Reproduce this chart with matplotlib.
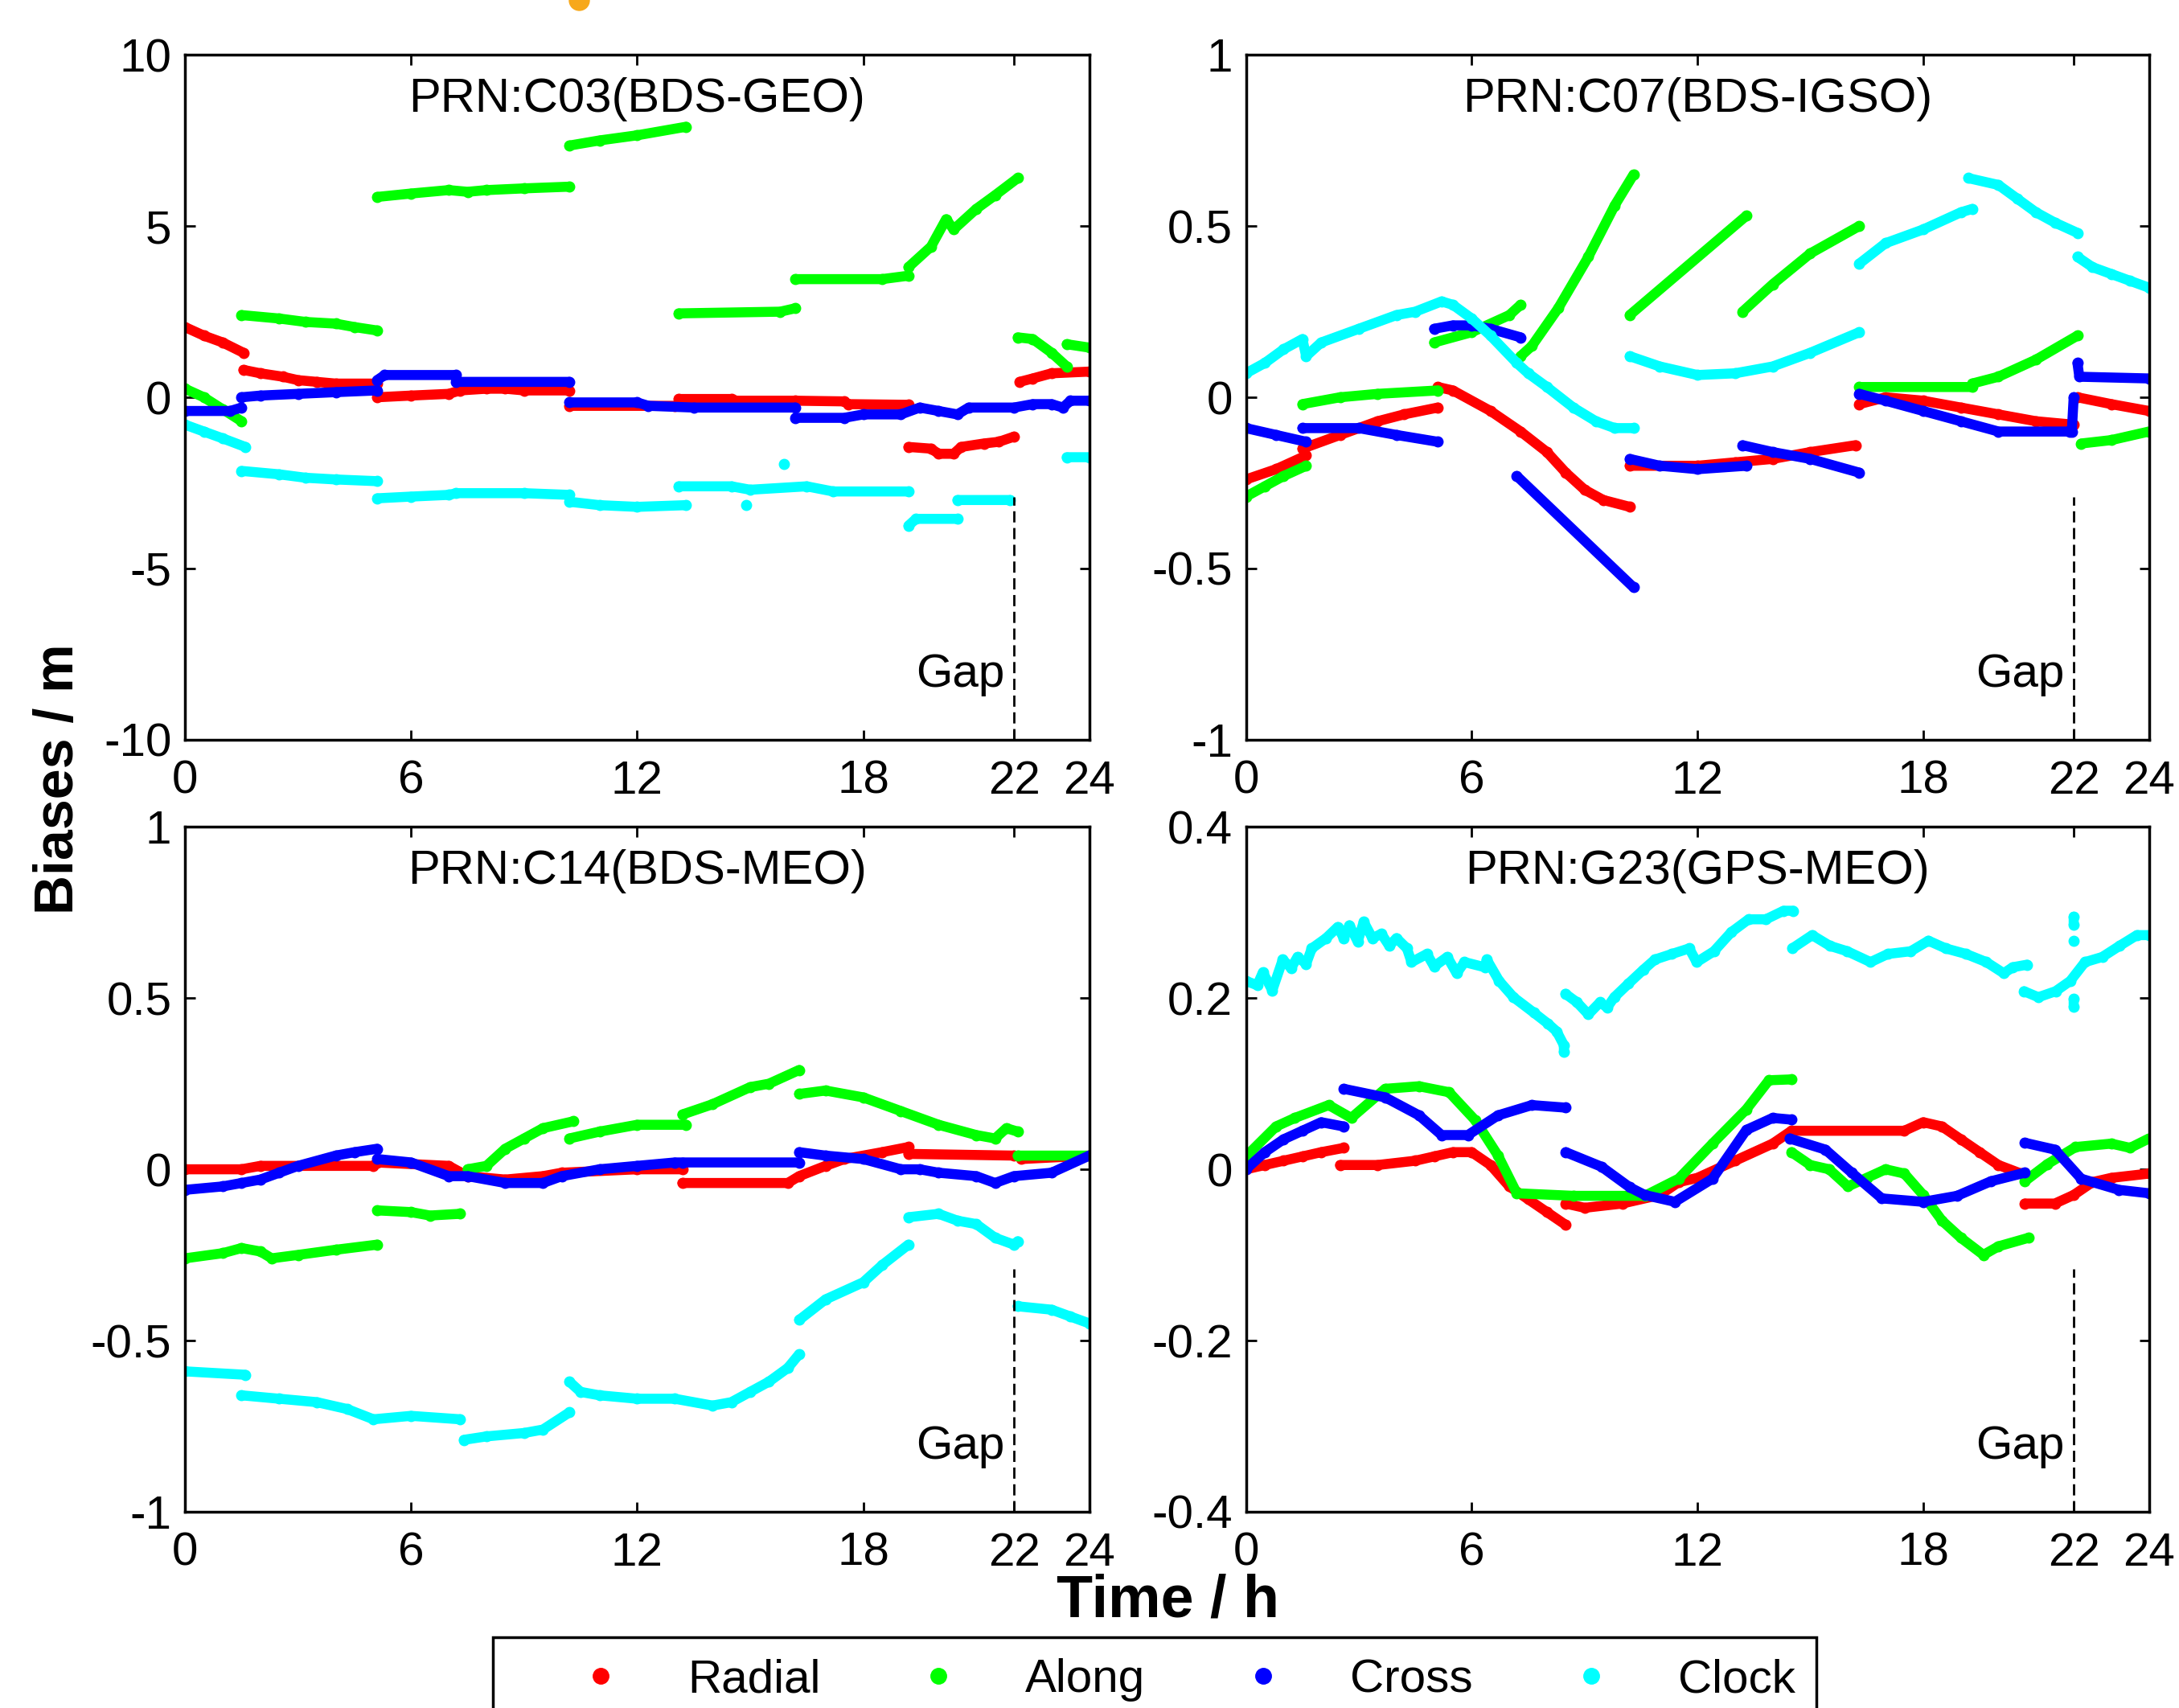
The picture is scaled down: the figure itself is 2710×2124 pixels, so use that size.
import numpy as np
import matplotlib
matplotlib.use("Agg")
import matplotlib.pyplot as plt
from matplotlib.lines import Line2D
import matplotlib.transforms as mtransforms

plt.rcParams["font.family"] = ["Liberation Sans", "DejaVu Sans"]
plt.rcParams["axes.unicode_minus"] = False

N = None  # segment break

# ---------------- PRN C03 (BDS-GEO) ----------------
C03_T_RADIAL = [0, 0.5, 1.0, 1.55, N, 1.55, 2, 2.6, 3, 3.5, 4, 5.1, N, 5.1, 6, 7, 7.3, 8, 8.5, 9, 10.2, N,
                10.2, 13.0, N, 13.1, 14.5, 14.6, 16.2, 17.5, 17.6, 19.2, N,
                19.2, 19.8, 20.0, 20.4, 20.6, 21.2, 21.6, 22.0, N, 22.15, 22.5, 23, 24]
C03_RADIAL = [2.05, 1.8, 1.6, 1.3, N, 0.8, 0.7, 0.6, 0.5, 0.45, 0.4, 0.4, N, 0.0, 0.05, 0.1, 0.2, 0.25, 0.25, 0.2, 0.2, N,
              -0.25, -0.25, N, -0.05, -0.05, -0.1, -0.1, -0.12, -0.2, -0.22, N,
              -1.45, -1.5, -1.65, -1.65, -1.45, -1.35, -1.3, -1.15, N, 0.45, 0.55, 0.7, 0.75]
C03_T_ALONG = [0, 0.5, 1.0, 1.5, N, 1.5, 2.5, 3.2, 4.0, 4.5, 5.1, N, 5.1, 6, 7, 7.5, 8, 9, 10.2, N,
               10.2, 11, 12, 13.3, N, 13.1, 15.8, 16.2, N, 16.2, 18.5, 19.2, N,
               19.2, 19.8, 20.2, 20.4, 21, 21.5, 22.1, N, 22.1, 22.5, 23, 23.4, N, 23.4, 24]
C03_ALONG = [0.25, 0.0, -0.35, -0.7, N, 2.4, 2.3, 2.2, 2.15, 2.05, 1.95, N, 5.85, 5.95, 6.05, 6.0, 6.05, 6.1, 6.15, N,
             7.35, 7.5, 7.65, 7.9, N, 2.45, 2.5, 2.6, N, 3.45, 3.45, 3.55, N,
             3.8, 4.4, 5.2, 4.9, 5.5, 5.9, 6.4, N, 1.75, 1.7, 1.3, 0.9, N, 1.55, 1.45]
C03_T_CROSS = [0, 1.2, 1.5, N, 1.5, 2, 3, 4, 5.1, N, 5.1, 5.3, 7.2, 7.2, 10.2, N,
               10.2, 12, 12.3, 13.5, 16.2, N,
               16.2, 17.5, 18, 19, 19.5, 20, 20.5, 20.8, 22, 22.5, 23, 23.3, 23.5, 24]
C03_CROSS = [-0.4, -0.4, -0.3, N, 0.0, 0.05, 0.1, 0.15, 0.2, N, 0.5, 0.65, 0.65, 0.45, 0.45, N,
             -0.15, -0.15, -0.25, -0.3, -0.3, N,
             -0.6, -0.6, -0.5, -0.5, -0.3, -0.4, -0.5, -0.3, -0.3, -0.2, -0.2, -0.3, -0.1, -0.1]
C03_T_CLOCK = [0, 0.5, 1.0, 1.6, N, 1.5, 2.5, 3.2, 4, 5.1, N, 5.1, 6, 7, 7.2, 9, 10.2, N,
               10.2, 11, 12, 13.3, N, 13.1, 14.5, 15, 16.5, 17.2, 19.2, N, 14.9, N, 15.9, N,
               19.2, 19.4, 20.5, N, 20.5, 21.9, N, 23.4, 24]
C03_CLOCK = [-0.8, -1.0, -1.2, -1.45, N, -2.15, -2.25, -2.35, -2.4, -2.45, N, -2.95, -2.9, -2.85, -2.8, -2.8, -2.85, N,
             -3.05, -3.15, -3.2, -3.15, N, -2.6, -2.6, -2.7, -2.6, -2.75, -2.75, N, -3.15, N, -1.95, N,
             -3.75, -3.55, -3.55, N, -3.0, -3.0, N, -1.75, -1.75]

# ---------------- PRN C07 (BDS-IGSO) ----------------
C07_T_RADIAL = [0, 0.8, 1.6, N, 1.5, 2.5, 3.5, 4.2, 5.1, N,
                5.1, 5.5, 6.5, 7.3, 8, 8.5, 9, 9.5, 10.2, N,
                10.2, 12, 13, 14, 15, 16.2, N, 16.3, 17, 18, 19, 20, 21, 22, N, 22.1, 23, 24]
C07_RADIAL = [-0.24, -0.21, -0.17, N, -0.15, -0.11, -0.07, -0.05, -0.03, N,
              0.03, 0.02, -0.04, -0.1, -0.16, -0.22, -0.27, -0.3, -0.32, N,
              -0.2, -0.2, -0.19, -0.18, -0.16, -0.14, N, -0.02, 0.0, -0.01, -0.03, -0.05, -0.07, -0.08, N,
              0.0, -0.02, -0.04]
C07_T_ALONG = [0, 0.5, 1.0, 1.6, N, 1.5, 2.5, 3.5, 5.1, N, 5.0, 6, 7, 7.3, N,
               7.3, 7.6, 8.3, 9.1, 9.8, 10.3, N, 10.2, 13.3, N, 13.2, 14, 15, 16.3, N,
               16.3, 19.3, N, 19.3, 20, 21, 22.1, N, 22.2, 23, 24]
C07_ALONG = [-0.29, -0.26, -0.23, -0.2, N, -0.02, 0.0, 0.01, 0.02, N, 0.16, 0.19, 0.24, 0.27, N,
             0.12, 0.15, 0.26, 0.41, 0.56, 0.65, N, 0.24, 0.53, N, 0.25, 0.33, 0.42, 0.5, N,
             0.03, 0.03, N, 0.04, 0.06, 0.11, 0.18, N, -0.135, -0.125, -0.1]
C07_T_CROSS = [0, 0.8, 1.6, N, 1.5, 3, 4, 5.1, N, 5.0, 5.5, 6, 6.5, 7.3, N, 7.2, 10.3, N,
               10.2, 11, 12, 13.3, N, 13.2, 14, 15, 16.3, N,
               16.3, 17, 18, 19, 20, 21.9, 21.95, 22.0, N, 22.1, 22.15, 24]
C07_CROSS = [-0.09, -0.11, -0.13, N, -0.09, -0.09, -0.11, -0.13, N, 0.2, 0.21, 0.21, 0.2, 0.175, N, -0.23, -0.555, N,
             -0.18, -0.2, -0.21, -0.2, N, -0.14, -0.16, -0.18, -0.22, N,
             0.01, -0.01, -0.04, -0.07, -0.1, -0.1, -0.1, 0.0, N, 0.1, 0.06, 0.055]
C07_T_CLOCK = [0, 0.5, 1.0, 1.5, 1.6, 2, 3, 4, 4.5, 5.2, 5.5, 6, 6.5, 7.2, 7.5, 8, 8.7, 9.3, 9.8, 10.3, N,
               10.2, 11, 12, 13, 14, 15, 16.3, N, 16.3, 17, 18, 19, 19.3, N,
               19.2, 20, 20.5, 21, 21.5, 22.1, N, 22.1, 22.5, 23, 23.5, 24]
C07_CLOCK = [0.07, 0.1, 0.14, 0.17, 0.12, 0.16, 0.2, 0.24, 0.25, 0.28, 0.27, 0.23, 0.18, 0.1, 0.07, 0.03, -0.03, -0.07, -0.09, -0.09, N,
             0.12, 0.09, 0.065, 0.07, 0.09, 0.13, 0.19, N, 0.39, 0.45, 0.49, 0.54, 0.55, N,
             0.64, 0.62, 0.58, 0.54, 0.51, 0.48, N, 0.41, 0.38, 0.36, 0.34, 0.32]

# ---------------- PRN C14 (BDS-MEO) ----------------
C14_T_RADIAL = [0, 1.5, 2, 5, 5.1, 7, 7.5, 8.5, 9.5, 10, 12, 13.2, N, 13.2, 16, 16.3, 17, 17.5, 18.5, 19.2, N,
                19.2, 22, N, 22.2, 24]
C14_RADIAL = [0.0, 0.0, 0.01, 0.01, 0.02, 0.01, -0.02, -0.03, -0.02, -0.01, 0.0, 0.0, N,
              -0.04, -0.04, -0.02, 0.01, 0.03, 0.05, 0.065, N, 0.045, 0.04, N, 0.03, 0.04]
C14_T_ALONG = [0, 1, 1.5, 2.0, 2.3, 3, 4, 5.1, N, 5.1, 6, 6.5, 7.3, N, 7.5, 8, 8.5, 9, 9.5, 10.3, N,
               10.2, 11, 12, 13.3, N, 13.2, 14, 15, 15.5, 16.3, N,
               16.3, 17, 18, 19, 20, 21, 21.5, 21.8, 22.1, N, 22.1, 24]
C14_ALONG = [-0.26, -0.245, -0.23, -0.24, -0.26, -0.25, -0.235, -0.22, N, -0.12, -0.125, -0.135, -0.13, N,
             0.0, 0.01, 0.06, 0.09, 0.12, 0.14, N, 0.09, 0.11, 0.13, 0.13, N, 0.16, 0.19, 0.24, 0.25, 0.29, N,
             0.22, 0.23, 0.21, 0.17, 0.13, 0.1, 0.09, 0.12, 0.11, N, 0.04, 0.04]
C14_T_CROSS = [0, 1, 1.5, 2, 2.5, 3, 4, 4.5, 5.1, N, 5.1, 6, 7, 7.5, 8.5, 9.5, 10, 11, 12, 13, 13.2, 16.3, N,
               16.3, 17, 18, 19, 19.5, 20, 21, 21.5, 22, 23, 24]
C14_CROSS = [-0.06, -0.05, -0.04, -0.03, -0.01, 0.01, 0.04, 0.05, 0.06, N,
             0.03, 0.02, -0.02, -0.02, -0.04, -0.04, -0.02, 0.0, 0.01, 0.02, 0.02, 0.02, N,
             0.05, 0.04, 0.03, 0.0, 0.0, -0.01, -0.02, -0.04, -0.02, -0.01, 0.04]
C14_T_CLOCK = [0, 1.6, N, 1.5, 2.5, 3.5, 4.3, 5, 6, 7.3, N, 7.4, 8, 9, 9.5, 10.2, N,
               10.2, 10.5, 11, 12, 13, 14, 14.5, 15, 15.5, 16, 16.3, N, 16.3, 17, 18, 18.5, 19.2, N,
               19.2, 20, 20.5, 21, 21.5, 22, 22.1, N, 22.1, 23, 23.5, 24]
C14_CLOCK = [-0.59, -0.6, N, -0.66, -0.67, -0.68, -0.7, -0.73, -0.72, -0.73, N, -0.79, -0.78, -0.77, -0.76, -0.71, N,
             -0.62, -0.65, -0.66, -0.67, -0.67, -0.69, -0.68, -0.65, -0.62, -0.58, -0.54, N,
             -0.44, -0.38, -0.33, -0.28, -0.22, N, -0.14, -0.13, -0.15, -0.16, -0.2, -0.22, -0.21, N,
             -0.4, -0.41, -0.43, -0.45]

# ---------------- PRN G23 (GPS-MEO) ----------------
G23_T_RADIAL = [0, 0.5, 1, 1.5, 2, 2.6, N, 2.5, 3.5, 4.5, 5, 5.5, 6, 6.5, 7, 7.5, 8, 8.5, N,
                8.5, 9, 10, 11, 11.5, 12, 13, 14, 14.5, 17.5, 18, 18.5, 19, 19.5, 20, 20.6, N,
                20.7, 21.5, 22, 22.5, 23, 24]
G23_RADIAL = [0.0, 0.005, 0.01, 0.015, 0.02, 0.025, N, 0.005, 0.005, 0.01, 0.015, 0.02, 0.02, 0.005, -0.02, -0.035, -0.05, -0.065, N,
              -0.04, -0.045, -0.04, -0.03, -0.015, -0.01, 0.01, 0.03, 0.045, 0.045, 0.055, 0.05, 0.035, 0.02, 0.005, -0.005, N,
              -0.04, -0.04, -0.03, -0.015, -0.01, -0.005]
G23_T_ALONG = [0, 0.8, 1.3, 2.2, 2.8, 3.7, 4.6, 5.4, 6.1, 6.7, 7.2, 8.7, 10.6, 11.5, 12.4, 13.3, 13.9, 14.5, N,
               14.5, 15, 15.5, 16, 16.5, 17, 17.5, 18, 18.5, 19, 19.6, 20, 20.8, N,
               20.7, 21.3, 22.05, 23, 23.5, 24]
G23_ALONG = [0.015, 0.05, 0.06, 0.075, 0.06, 0.094, 0.097, 0.09, 0.057, 0.016, -0.028, -0.031, -0.031, -0.011, 0.03, 0.07, 0.104, 0.105, N,
             0.02, 0.005, 0.0, -0.02, -0.01, 0.0, -0.005, -0.03, -0.06, -0.08, -0.1, -0.09, -0.08, N,
             -0.014, 0.006, 0.026, 0.03, 0.025, 0.036]
G23_T_CROSS = [0, 0.5, 1, 1.5, 2, 2.6, N, 2.6, 3.7, 4.6, 5.2, 5.9, 6.7, 7.6, 8.5, N,
               8.5, 9.45, 10.2, 10.6, 11.4, 12.4, 13.3, 14, 14.5, N,
               14.45, 15.4, 16.1, 16.9, 18, 18.9, 19.8, 20.7, N, 20.7, 21.5, 22.2, 23.2, 24]
G23_CROSS = [0.0, 0.02, 0.035, 0.045, 0.055, 0.05, N, 0.094, 0.084, 0.063, 0.04, 0.04, 0.063, 0.075, 0.072, N,
             0.02, 0.003, -0.021, -0.03, -0.038, -0.011, 0.046, 0.06, 0.058, N,
             0.036, 0.023, -0.004, -0.034, -0.038, -0.031, -0.014, -0.004, N, 0.031, 0.023, -0.011, -0.024, -0.028]
G23_T_CLOCK = [0, 0.3, 0.45, 0.7, 0.98, 1.2, 1.37, 1.6, 1.75, 2.13, 2.44, 2.6, 2.75, 2.97, 3.13, 3.36, 3.6, 3.81,
               4.0, 4.28, 4.4, 4.81, 5.0, 5.35, 5.6, 5.81, 6.35, 6.4, 6.73, 7.11, 7.65, 8.03, 8.26, 8.45, 8.45, N,
               8.49, 8.8, 9.1, 9.41, 9.6, 9.79, 10.17, 10.56, 10.87, 11.32, 11.78, 11.98, 12.44, 12.9, 13.36,
               13.82, 14.29, 14.55, N,
               14.52, 15.05, 15.52, 15.98, 16.6, 17.06, 17.67, 18.14, 18.6, 19.14, 19.68, 20.14, 20.38, 20.76, N,
               20.68, 21.06, 21.52, 21.91, 22.3, 22.76, 23.22, 23.68, 24, N,
               22.0, 22.0, N, 22.0, N, 22.0, 22.0]
G23_CLOCK = [0.22, 0.215, 0.23, 0.209, 0.245, 0.235, 0.248, 0.24, 0.258, 0.27, 0.283, 0.27, 0.285, 0.266, 0.289, 0.27,
             0.275, 0.261, 0.27, 0.258, 0.242, 0.2515, 0.237, 0.248, 0.229, 0.242, 0.236, 0.245, 0.22, 0.201, 0.183,
             0.17, 0.161, 0.145, 0.137, N,
             0.205, 0.195, 0.181, 0.195, 0.189, 0.201, 0.217, 0.233, 0.245, 0.2515, 0.258, 0.242, 0.2547, 0.277,
             0.292, 0.292, 0.302, 0.302, N,
             0.258, 0.2735, 0.261, 0.2547, 0.242, 0.2515, 0.2547, 0.267, 0.258, 0.2515, 0.242, 0.229, 0.236, 0.239, N,
             0.208, 0.201, 0.208, 0.22, 0.242, 0.248, 0.261, 0.2735, 0.2735, N,
             0.295, 0.286, N, 0.267, N, 0.199, 0.19]

SERIES = ["Radial", "Along", "Cross", "Clock"]
COLORS = ["#ff0000", "#00ff00", "#0000ff", "#00ffff"]

PANELS = [
    ("PRN:C03(BDS-GEO)", (-10, 10), [-10, -5, 0, 5, 10], ["-10", "-5", "0", "5", "10"],
     [(C03_T_RADIAL, C03_RADIAL), (C03_T_ALONG, C03_ALONG), (C03_T_CROSS, C03_CROSS), (C03_T_CLOCK, C03_CLOCK)]),
    ("PRN:C07(BDS-IGSO)", (-1, 1), [-1, -0.5, 0, 0.5, 1], ["-1", "-0.5", "0", "0.5", "1"],
     [(C07_T_RADIAL, C07_RADIAL), (C07_T_ALONG, C07_ALONG), (C07_T_CROSS, C07_CROSS), (C07_T_CLOCK, C07_CLOCK)]),
    ("PRN:C14(BDS-MEO)", (-1, 1), [-1, -0.5, 0, 0.5, 1], ["-1", "-0.5", "0", "0.5", "1"],
     [(C14_T_RADIAL, C14_RADIAL), (C14_T_ALONG, C14_ALONG), (C14_T_CROSS, C14_CROSS), (C14_T_CLOCK, C14_CLOCK)]),
    ("PRN:G23(GPS-MEO)", (-0.4, 0.4), [-0.4, -0.2, 0, 0.2, 0.4], ["-0.4", "-0.2", "0", "0.2", "0.4"],
     [(G23_T_RADIAL, G23_RADIAL), (G23_T_ALONG, G23_ALONG), (G23_T_CROSS, G23_CROSS), (G23_T_CLOCK, G23_CLOCK)]),
]
XTICKS = [0, 6, 12, 18, 22, 24]
XTICKLABELS = ["0", "6", "12", "18", "22", "24"]
GAP_T = 22

POS = [[0.0849, 0.5669, 0.415, 0.401], [0.5718, 0.5669, 0.4144, 0.401],
       [0.0849, 0.1149, 0.415, 0.401], [0.5718, 0.1149, 0.4144, 0.401]]

FS = 42
LW = 9

fig = plt.figure(figsize=(27.1, 21.24), dpi=100)

for (title, ylim, yt, ytl, data), pos in zip(PANELS, POS):
    ax = fig.add_axes(pos)
    for (t, v), color in zip(data, COLORS):
        t = np.array(t, dtype=float)
        v = np.array(v, dtype=float)
        ax.plot(t, v, "-o", color=color, lw=LW, ms=LW, mec=color,
                solid_capstyle="round", solid_joinstyle="round")
    ax.set_xlim(0, 24)
    ax.set_ylim(*ylim)
    ax.set_xticks(XTICKS)
    ax.set_xticklabels(XTICKLABELS)
    ax.set_yticks(yt)
    ax.set_yticklabels(ytl)
    ax.tick_params(direction="in", length=9, width=2, top=True, right=True, labelsize=FS)
    ax.tick_params(axis="x", pad=18)
    ax.tick_params(axis="y", pad=12)
    for s in ax.spines.values():
        s.set_linewidth(2.5)
    ax.text(0.5, 0.935, title, transform=ax.transAxes, ha="center", va="center", fontsize=43)
    ax.axvline(GAP_T, ymin=0, ymax=0.355, color="k", lw=2, linestyle=(0, (5, 2.5)))
    trans = mtransforms.blended_transform_factory(ax.transData, ax.transAxes)
    ax.text(21.75, 0.095, "Gap", transform=trans, ha="right", va="center", fontsize=FS)

fig.text(0.027, 0.544, "Biases / m", rotation=90, ha="center", va="center",
         fontsize=49, fontweight="bold")
fig.text(0.5358, 0.0626, "Time / h", ha="center", va="center", fontsize=53, fontweight="bold")

handles = [Line2D([], [], marker="o", linestyle="none", color=c, ms=14) for c in COLORS]
leg = fig.legend(handles, SERIES, loc="upper left", ncol=4, mode="expand",
                 bbox_to_anchor=(0.2262, -0.1, 0.6074, 0.1414), bbox_transform=fig.transFigure,
                 fontsize=42, frameon=True, fancybox=False, framealpha=1, edgecolor="k",
                 handlelength=3.7, handletextpad=0.0, borderpad=0.45, borderaxespad=0)
leg.get_frame().set_linewidth(2.5)

# small orange mark cut off at the top edge
fig.add_artist(Line2D([0.2657], [1.0], marker="o", color="#f7a81b", ms=18,
                      transform=fig.transFigure, linestyle="none"))

fig.savefig("out.png", dpi=100)
